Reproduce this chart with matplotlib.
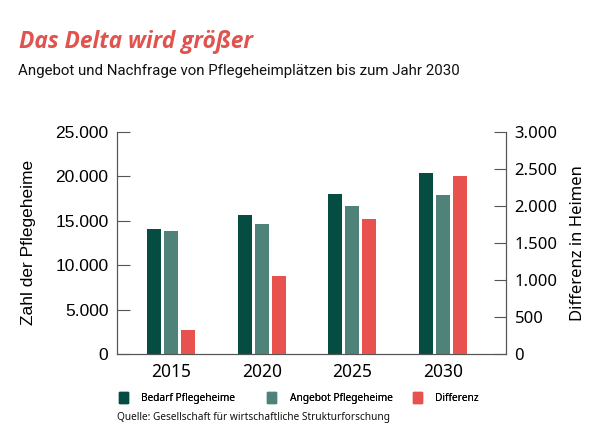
import numpy as np
import matplotlib.pyplot as plt
from matplotlib.patches import Patch
from matplotlib.ticker import FuncFormatter

# Daten
jahre = ['2015', '2020', '2025', '2030']
bedarf = [14100, 15600, 18000, 20300]
angebot = [13800, 14600, 16600, 17900]
differenz = [330, 1050, 1820, 2400]

c_bedarf = '#054d42'
c_angebot = '#4f8279'
c_diff = '#e8524e'
c_axis = '#555555'


def tausender(v, pos):
    return f'{int(v):,}'.replace(',', '.')


fig = plt.figure(figsize=(5.9, 4.4), dpi=100)
ax = fig.add_axes([0.198, 0.195, 0.660, 0.506])
ax2 = ax.twinx()

x = np.arange(len(jahre))
w = 0.155
off = 0.187
ax.bar(x - off, bedarf, w, color=c_bedarf, zorder=3)
ax.bar(x, angebot, w, color=c_angebot, zorder=3)
ax2.bar(x + off, differenz, w, color=c_diff, zorder=3)

ax.set_xlim(-0.6, 3.7)
ax.set_ylim(0, 25000)
ax2.set_ylim(0, 3000)
ax.set_yticks(range(0, 25001, 5000))
ax2.set_yticks(range(0, 3001, 500))
ax.yaxis.set_major_formatter(FuncFormatter(tausender))
ax2.yaxis.set_major_formatter(FuncFormatter(tausender))

ax.set_xticks(x)
ax.set_xticklabels(jahre, fontsize=12.5, family='Noto Sans')
ax.tick_params(axis='x', length=0, pad=6)
ax.tick_params(axis='y', direction='in', length=9, color=c_axis, pad=6)
ax2.tick_params(axis='y', direction='in', length=9, color=c_axis, pad=6)
for lbl in ax.get_yticklabels():
    lbl.set_fontfamily('Liberation Sans')
    lbl.set_fontsize(12.5)
for lbl in ax2.get_yticklabels():
    lbl.set_fontfamily('Noto Sans')
    lbl.set_fontsize(12)

for a in (ax, ax2):
    a.spines['top'].set_visible(False)
    for s in ('left', 'right', 'bottom'):
        a.spines[s].set_color(c_axis)

ax.set_ylabel('Zahl der Pflegeheime', family='Liberation Sans', fontsize=12.5, labelpad=14)
ax2.set_ylabel('Differenz in Heimen', family='Noto Sans', fontsize=12, labelpad=9)

# Titel
fig.text(0.032, 0.89, 'Das Delta wird größer', family='Open Sans', fontsize=16.4,
         fontweight='bold', fontstyle='italic', color='#e0534f')
fig.text(0.03, 0.83, 'Angebot und Nachfrage von Pflegeheimplätzen bis zum Jahr 2030',
         family='Roboto', fontsize=10.8, color='#111111')

# Legende
handles = [Patch(color=c_bedarf, label='Bedarf Pflegeheime'),
           Patch(color=c_angebot, label='Angebot Pflegeheime'),
           Patch(color=c_diff, label='Differenz')]
leg_x = [0.202, 0.453, 0.700]
for h, lx in zip(handles, leg_x):
    leg = fig.legend(handles=[h], loc='center left', bbox_to_anchor=(lx, 0.095),
                     frameon=False, handlelength=0.9, handleheight=1.2, handletextpad=1.3,
                     borderaxespad=0, borderpad=0, prop={'family': 'Noto Sans', 'size': 7.3})
    fig.add_artist(leg)

fig.text(0.198, 0.045, 'Quelle: Gesellschaft für wirtschaftliche Strukturforschung',
         family='Noto Sans', fontsize=7.3, color='#111111')

plt.savefig('out.png', dpi=100)
